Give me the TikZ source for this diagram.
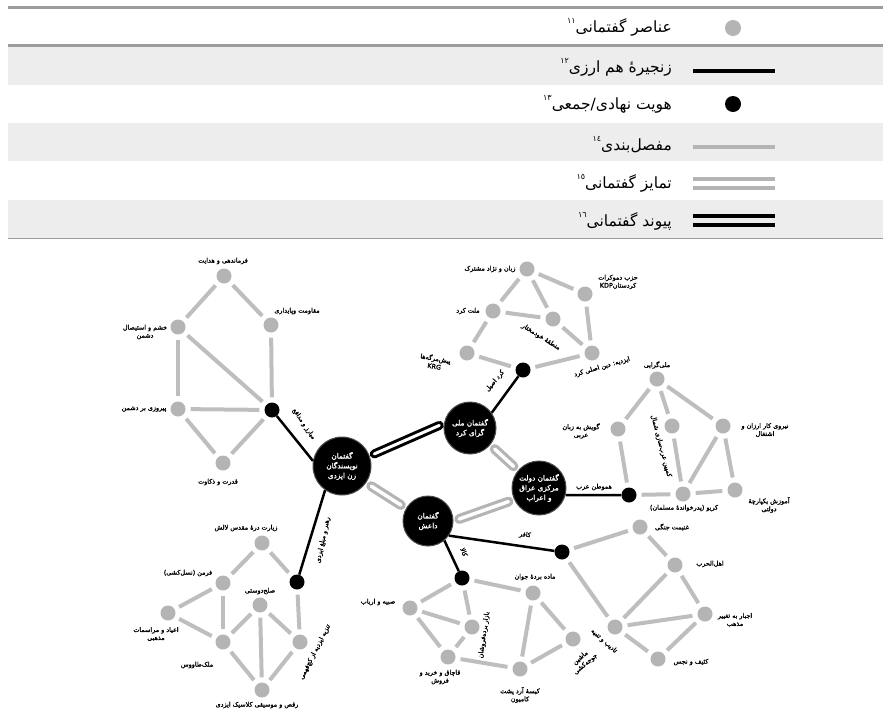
\documentclass[tikz,border=0pt]{standalone}
\usepackage{fontspec}
\newfontfamily\farsi[Script=Arabic]{DejaVu Sans}
\newfontfamily\farsib[Script=Arabic,FakeBold=1.6]{DejaVu Sans}
\TeXXeTstate=1
\newcommand\fa[1]{\beginR#1\endR}
\newcommand\keynum[1]{\raisebox{1.05ex}{\fontsize{8}{8}\selectfont#1}}
\definecolor{elemgray}{HTML}{B4B4B4}
\definecolor{linegray}{HTML}{BEBEBE}
\definecolor{rowgray}{HTML}{EDEDED}
\definecolor{rulegray}{HTML}{9C9C9C}

\begin{document}
\begin{tikzpicture}[x=1pt,y=-1pt,
    elem/.style={circle,fill=elemgray,inner sep=0pt,minimum size=15pt},
    hub/.style={circle,fill=black,inner sep=0pt,minimum size=15pt},
    disc/.style={circle,fill=black,draw=gray!60!black,line width=1pt,inner sep=0pt,
      text=white,align=center,font=\farsib\fontsize{7.3}{9.8}\selectfont},
    lbl/.style={inner sep=0pt,align=center,font=\farsib\fontsize{6.4}{8}\selectfont},
    keytxt/.style={anchor=east,inner sep=0pt,font=\farsi\fontsize{15.5}{17}\selectfont},
    artic/.style={draw=linegray,line width=4pt,shorten >=5pt,shorten <=5pt},
    hamarz/.style={draw=black,line width=2.5pt},
    tamayoz/.style={draw=elemgray,double=white,double distance=3.5pt,line width=3.2pt,
      line cap=round,shorten >=6pt,shorten <=6pt},
    peyvand/.style={draw=black,double=white,double distance=3pt,line width=3pt,
      line cap=round,shorten >=5pt,shorten <=5pt}]
  \fill[white] (0,0) rectangle (883,713);
  \useasboundingbox (0,0) rectangle (883,713);

  % legend
  \fill[rowgray] (8,47) rectangle (883,85);
  \fill[rowgray] (8,123) rectangle (883,161);
  \fill[rowgray] (8,200) rectangle (883,238);
  \draw[rulegray,line width=3pt] (8,7) -- (883,7);
  \draw[rulegray,line width=3pt] (8,45.5) -- (883,45.5);
  \draw[rulegray,line width=1.2pt] (8,238.5) -- (883,238.5);
  \node[keytxt] (key1) at (672,27) {\fa{عناصر گفتمانی\keynum{١١}}};
  \node[keytxt] (key2) at (672,67) {\fa{زنجیرهٔ هم ارزی\keynum{١٢}}};
  \node[keytxt] (key3) at (672,104) {\fa{هویت نهادی/جمعی\keynum{١٣}}};
  \node[keytxt] (key4) at (672,145) {\fa{مفصل‌بندی\keynum{١٤}}};
  \node[keytxt] (key5) at (672,183) {\fa{تمایز گفتمانی\keynum{١٥}}};
  \node[keytxt] (key6) at (672,221) {\fa{پیوند گفتمانی\keynum{١٦}}};
  \node[elem,minimum size=16pt] (keyelem) at (733,28) {};
  \node[hub,minimum size=16pt] (keyhub) at (733,104) {};
  \draw[black,line width=4.5pt] (693,71) -- (775,71);
  \draw[elemgray,line width=4pt] (693,147) -- (775,147);
  \draw[elemgray,line width=4pt] (693,179) -- (775,179);
  \draw[elemgray,line width=4pt] (693,187.5) -- (775,187.5);
  \draw[black,line width=4.5pt] (693,216) -- (775,216);
  \draw[black,line width=4.5pt] (693,225) -- (775,225);

  % discourses
  \node[disc,minimum size=58pt] (A) at (342,466) {\fa{گفتمان}\\\fa{نویسندگان}\\\fa{زن ایزدی}};
  \node[disc,minimum size=52pt] (B) at (470,428) {\fa{گفتمان ملی}\\\fa{گرای کرد}};
  \node[disc,minimum size=54pt] (C) at (539,488) {\fa{گفتمان دولت}\\\fa{مرکزی عراق}\\\fa{و اعراب}};
  \node[disc,minimum size=50pt] (D) at (428,521) {\fa{گفتمان}\\\fa{داعش}};
  \draw[peyvand] (A.20) -- (B.170);
  \draw[tamayoz] (B.-40) -- (C.140);
  \draw[tamayoz] (A.-35) -- (D.150);
  \draw[tamayoz] (D.0) -- (C.205);

  % collective identities
  \node[hub] (a1) at (272,410) {};
  \node[hub] (a2) at (297,582) {};
  \node[hub] (b1) at (523,370) {};
  \node[hub] (c1) at (629,495) {};
  \node[hub] (d1) at (562,552) {};
  \node[hub] (d2) at (462,578) {};
  \path[hamarz] (a1) edge (A.170)
    (a2) edge (A.235)
    (b1) edge (B.35)
    (c1) edge (C.-15)
    (d1) edge (D.-35)
    (d2) edge (D.-50);
  \node[lbl,rotate=-56] (a1l) at (304,424) {\fa{مبارز و مدافع}};
  \node[lbl,rotate=78] (a2l) at (323,540) {\fa{رهبر و مبلغ ایزدی}};
  \node[lbl,rotate=50] (b1l) at (495,381) {\fa{کرد اصیل}};
  \node[lbl] (c1l) at (594,487) {\fa{هموطن عرب}};
  \node[lbl,rotate=-6] (d1l) at (525,535) {\fa{کافر}};
  \node[lbl,rotate=-68] (d2l) at (464,552) {\fa{کالا}};

  % cluster around a1
  \node[elem] (g1) at (224,276) {};
  \node[elem] (g2) at (271,325) {};
  \node[elem] (g3) at (178,327) {};
  \node[elem] (g4) at (178,409) {};
  \node[elem] (g5) at (223,463) {};
  \node[lbl] (g1l) at (223,261) {\fa{فرماندهی و هدایت}};
  \node[lbl] (g2l) at (297,311) {\fa{مقاومت وپایداری}};
  \node[lbl] (g3l) at (145,332) {\fa{خشم و استیصال}\\\fa{دشمن}};
  \node[lbl] (g4l) at (144,409) {\fa{پیروزی بر دشمن}};
  \node[lbl] (g5l) at (218,482) {\fa{قدرت و ذکاوت}};
  \path[artic] (g1) edge (g3) edge (g2)
    (g3) edge (g4) edge (a1)
    (g2) edge (a1)
    (g4) edge (a1) edge (g5)
    (g5) edge (a1);

  % cluster around a2
  \node[elem] (h1) at (262,543) {};
  \node[elem] (h2) at (223,583) {};
  \node[elem] (h3) at (260,605) {};
  \node[elem] (h4) at (168,613) {};
  \node[elem] (h5) at (223,642) {};
  \node[elem] (h6) at (300,642) {};
  \node[elem] (h7) at (262,690) {};
  \node[lbl] (h1l) at (246,528) {\fa{زیارت درهٔ مقدس لالش}};
  \node[lbl] (h2l) at (188,573) {\fa{فرمن (نسل‌کشی)}};
  \node[lbl] (h3l) at (260,591) {\fa{صلح‌دوستی}};
  \node[lbl] (h4l) at (156,634) {\fa{اعیاد و مراسمات}\\\fa{مذهبی}};
  \node[lbl] (h5l) at (197,665) {\fa{ملک‌طاووس}};
  \node[lbl,rotate=63] (h6l) at (315,652) {\fa{تنزیه ایزدیه از کج‌فهمی}};
  \node[lbl] (h7l) at (257,705) {\fa{رقص و موسیقی کلاسیک ایزدی}};
  \path[artic] (h1) edge (h2) edge (a2)
    (h2) edge (h4) edge (h5)
    (h4) edge (h5)
    (h5) edge (h3) edge (h7)
    (h3) edge (h7) edge (h6)
    (h7) edge (h6)
    (a2) edge (h6);

  % cluster around b1
  \node[elem] (k1) at (527,269) {};
  \node[elem] (k2) at (585,294) {};
  \node[elem] (k3) at (493,311) {};
  \node[elem] (k4) at (553,319) {};
  \node[elem] (k5) at (467,353) {};
  \node[elem] (k6) at (592,353) {};
  \node[lbl] (k1l) at (490,269) {\fa{زبان و نژاد مشترک}};
  \node[lbl] (k2l) at (618,282) {\fa{حزب دموکرات}\\\fa{کردستان\beginL KDP\endL}};
  \node[lbl] (k3l) at (468,311) {\fa{ملت کرد}};
  \node[lbl,rotate=-32] (k4l) at (541,337) {\fa{منطقهٔ خودمختار}};
  \node[lbl,rotate=-10] (k5l) at (435,362) {\fa{پیش‌مرگه‌ها}\\\fa{\beginL KRG\endL}};
  \node[lbl,rotate=16] (k6l) at (602,367) {\fa{ایزدیه: دین اصلی کرد}};
  \path[artic] (k1) edge (k3) edge (k4) edge (k2)
    (k3) edge (k4) edge (k5)
    (k4) edge (k6)
    (k2) edge (k6)
    (k5) edge (b1)
    (b1) edge (k6);

  % cluster around c1
  \node[elem] (m1) at (657,379) {};
  \node[elem] (m2) at (618,429) {};
  \node[elem] (m3) at (672,426) {};
  \node[elem] (m4) at (723,426) {};
  \node[elem] (m5) at (683,494) {};
  \node[elem] (m6) at (735,490) {};
  \node[lbl] (m1l) at (657,365) {\fa{ملی‌گرایی}};
  \node[lbl] (m2l) at (581,431) {\fa{گویش به زبان}\\\fa{عربی}};
  \node[lbl,rotate=-75] (m3l) at (661,446) {\fa{کمپین عرب‌سازی شمال}};
  \node[lbl] (m4l) at (765,430) {\fa{نیروی کار ارزان و}\\\fa{اشتغال}};
  \node[lbl] (m5l) at (684,508) {\fa{کریو (پدرخواندهٔ مسلمان)}};
  \node[lbl] (m6l) at (769,505) {\fa{آموزش یکپارچهٔ}\\\fa{دولتی}};
  \path[artic] (m1) edge (m2) edge (m3) edge (m4)
    (m2) edge (c1)
    (m3) edge (m5)
    (m4) edge (m5) edge (m6)
    (c1) edge (m5)
    (m5) edge (m6);

  % cluster around d1
  \node[elem] (n1) at (640,527) {};
  \node[elem] (n2) at (675,565) {};
  \node[elem] (n3) at (705,614) {};
  \node[elem] (n4) at (615,627) {};
  \node[elem] (n5) at (658,659) {};
  \node[lbl] (n1l) at (672,527) {\fa{غنیمت جنگی}};
  \node[lbl] (n2l) at (710,564) {\fa{اهل‌الحرب}};
  \node[lbl] (n3l) at (735,620) {\fa{اجبار به تغییر}\\\fa{مذهب}};
  \node[lbl,rotate=-42] (n4l) at (604,641) {\fa{تادیب و تنبیه}};
  \node[lbl] (n5l) at (691,662) {\fa{کثیف و نجس}};
  \path[artic] (d1) edge (n1) edge (n4)
    (n1) edge (n2)
    (n2) edge (n3) edge (n4)
    (n3) edge (n4)
    (n4) edge (n5)
    (n5) edge (n3);

  % cluster around d2
  \node[elem] (p1) at (410,608) {};
  \node[elem] (p2) at (472,627) {};
  \node[elem] (p3) at (448,657) {};
  \node[elem] (p4) at (533,593) {};
  \node[elem] (p5) at (573,639) {};
  \node[elem] (p6) at (520,669) {};
  \node[lbl] (p1l) at (378,602) {\fa{صبیه و ارباب}};
  \node[lbl,rotate=82] (p2l) at (484,635) {\fa{بازار برده‌فروشان}};
  \node[lbl] (p3l) at (440,677) {\fa{قاچاق و خرید و}\\\fa{فروش}};
  \node[lbl] (p4l) at (535,577) {\fa{ماده بردهٔ جوان}};
  \node[lbl,rotate=40] (p5l) at (583,661) {\fa{ماشین}\\\fa{جوجه‌کشی}};
  \node[lbl] (p6l) at (520,695) {\fa{کیسهٔ آرد پشت}\\\fa{کامیون}};
  \path[artic] (d2) edge (p1) edge (p2) edge (p4)
    (p1) edge (p2) edge (p3)
    (p2) edge (p3)
    (p3) edge (p6)
    (p4) edge (p6) edge (p5)
    (p5) edge (p6);
\end{tikzpicture}
\end{document}
